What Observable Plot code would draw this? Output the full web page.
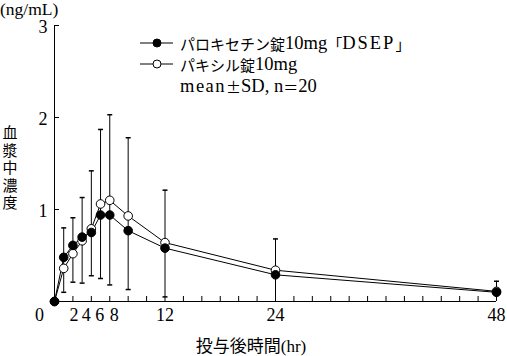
<!DOCTYPE html>
<html><head><meta charset="utf-8">
<script src="https://cdn.jsdelivr.net/npm/d3@7"></script>
<script src="https://cdn.jsdelivr.net/npm/@observablehq/plot@0.6"></script>
<style>body{margin:0;background:#fff}svg{overflow:visible}</style>
</head><body><div id="chart"></div>
<script>
const times = [0, 1, 2, 3, 4, 5, 6, 8, 12, 24, 48];
const dsep = [0, 0.48, 0.61, 0.70, 0.75, 0.94, 0.94, 0.77, 0.58, 0.29, 0.10];
const paxil = [0, 0.36, 0.52, 0.66, 0.79, 1.06, 1.10, 0.93, 0.64, 0.34, 0.11];
const errTimes = [1, 2, 3, 4, 5, 6, 8, 12, 24, 48];
const errHigh = [0.80, 0.91, 1.13, 1.42, 1.87, 2.03, 1.78, 1.21, 0.68, 0.22];
const errLow = [0.10, 0.21, 0.20, 0.28, 0.25, 0.18, 0.13, 0.05, 0, 0];
const xTickLabels = [0, 2, 4, 6, 8, 12, 24, 48];
const xMinorTicks = [0, 2, 4, 6, 8, 10, 12, 14, 16, 18, 20, 22, 24, 26, 28, 30, 32, 34, 36, 38, 40, 42, 44, 46, 48];
const yTickLabels = [1, 2, 3];
const seriesNames = ["パロキセチン錠10mg「DSEP」", "パキシル錠10mg"];
const noteText = "mean±SD, n＝20";
const yUnit = "(ng/mL)";
const yTitle = "血漿中濃度";
const xTitle = "投与後時間(hr)";

const W = 507, H = 356, mL = 54, mR = 11, mT = 25, mB = 55;
const plotW = W - mL - mR, plotH = H - mT - mB;
const font = "'Liberation Serif','Noto Sans CJK JP',serif";
const cjkFont = "'Noto Sans CJK JP',sans-serif";

const rowsA = times.map((t, i) => ({t, v: dsep[i]}));
const rowsB = times.map((t, i) => ({t, v: paxil[i]}));
const errs = errTimes.map((t, i) => ({t, lo: errLow[i], hi: errHigh[i]}));
const capSymbol = {draw(ctx) { ctx.moveTo(-2.5, 0); ctx.lineTo(2.5, 0); }};
const labelShift = {0: -15, 2: 1, 4: -5, 6: -10, 8: -14};

const marks = [
  Plot.ruleY([0], {stroke: "#000", strokeWidth: 1}),
  Plot.ruleX([0], {stroke: "#000", strokeWidth: 1}),
  Plot.tickX(xMinorTicks, {x: d => d, insetTop: plotH - 5, stroke: "#000"}),
  Plot.tickY(yTickLabels, {y: d => d, insetRight: plotW - 5, stroke: "#000"}),
  Plot.text(yTickLabels, {y: d => d, text: d => String(d), frameAnchor: "left", textAnchor: "end", dx: -7, dy: 2, fontSize: 18, fill: "#000"}),
  ...xTickLabels.map(v => Plot.text([v], {x: d => d, text: d => String(d), frameAnchor: "bottom", dy: 19, dx: labelShift[v] || 0, fontSize: 18, fill: "#000"})),
  Plot.ruleX(errs, {x: "t", y1: "lo", y2: "hi", stroke: "#000", strokeWidth: 1}),
  Plot.dot(errs, {x: "t", y: "hi", symbol: capSymbol, stroke: "#000", r: 3}),
  Plot.dot(errs.filter(d => d.lo > 0), {x: "t", y: "lo", symbol: capSymbol, stroke: "#000", r: 3}),
  Plot.line(rowsB, {x: "t", y: "v", stroke: "#000", strokeWidth: 1}),
  Plot.line(rowsA, {x: "t", y: "v", stroke: "#000", strokeWidth: 1}),
  Plot.dot(rowsB, {x: "t", y: "v", r: 4.3, fill: "#fff", stroke: "#000", strokeWidth: 1}),
  Plot.dot(rowsA, {x: "t", y: "v", r: 4.3, fill: "#000", stroke: "#000", strokeWidth: 1})
];

const svg = Plot.plot({
  width: W, height: H,
  marginLeft: mL, marginRight: mR, marginTop: mT, marginBottom: mB,
  style: {fontFamily: font, background: "#fff", color: "#000"},
  x: {domain: [0, 48], axis: null},
  y: {domain: [0, 3], axis: null},
  marks
});

const s = d3.select(svg);
const g = s.append("g").attr("font-family", font).attr("fill", "#000").attr("text-anchor", "start");
// unit label
g.append("text").attr("x", 0).attr("y", 9).attr("text-anchor", "start").attr("dominant-baseline", "central").attr("font-size", 17.5).text(yUnit);
// vertical y title (single text, vertical writing mode)
g.append("text").attr("x", 10).attr("y", 125).attr("text-anchor", "start")
  .style("writing-mode", "vertical-rl").attr("letter-spacing", 2.5)
  .attr("font-family", cjkFont).attr("font-size", 15).text(yTitle);
// x title
g.append("text").attr("x", 251).attr("y", 346).attr("text-anchor", "middle")
  .attr("dominant-baseline", "central").attr("font-size", 17).text(xTitle);

// mixed-script text: CJK runs smaller sans, Latin runs serif
const isCJK = ch => /[\u3000-\u30ff\u4e00-\u9fff\uff00-\uffef±]/.test(ch);
function mixed(sel, str) {
  const runs = [];
  for (const ch of str) {
    const c = isCJK(ch);
    if (runs.length && runs[runs.length - 1].c === c) runs[runs.length - 1].s += ch;
    else runs.push({c, s: ch});
  }
  runs.forEach(r => {
    const t = sel.append("tspan").text(r.s);
    if (r.c) t.attr("font-family", cjkFont).attr("font-size", 15);
    else {
      t.attr("font-family", "'Liberation Serif',serif").attr("font-size", 18.5);
      if (/^[A-Z]+$/.test(r.s)) t.attr("letter-spacing", 2);
      if (/^mean$/.test(r.s)) t.attr("letter-spacing", 1.5);
    }
  });
}

// legend
const lg = g.append("g").attr("text-anchor", "start");
[43, 64].forEach((y, i) => {
  lg.append("line").attr("x1", 140).attr("x2", 173).attr("y1", y).attr("y2", y).attr("stroke", "#000");
  lg.append("circle").attr("cx", 157).attr("cy", y).attr("r", 4).attr("stroke", "#000")
    .attr("fill", i === 0 ? "#000" : "#fff");
  mixed(lg.append("text").attr("x", 180).attr("y", y).attr("text-anchor", "start").attr("dominant-baseline", "central"), seriesNames[i]);
});
mixed(lg.append("text").attr("x", 180).attr("y", 86).attr("text-anchor", "start").attr("dominant-baseline", "central"), noteText);

document.getElementById("chart").appendChild(svg);
</script></body></html>
